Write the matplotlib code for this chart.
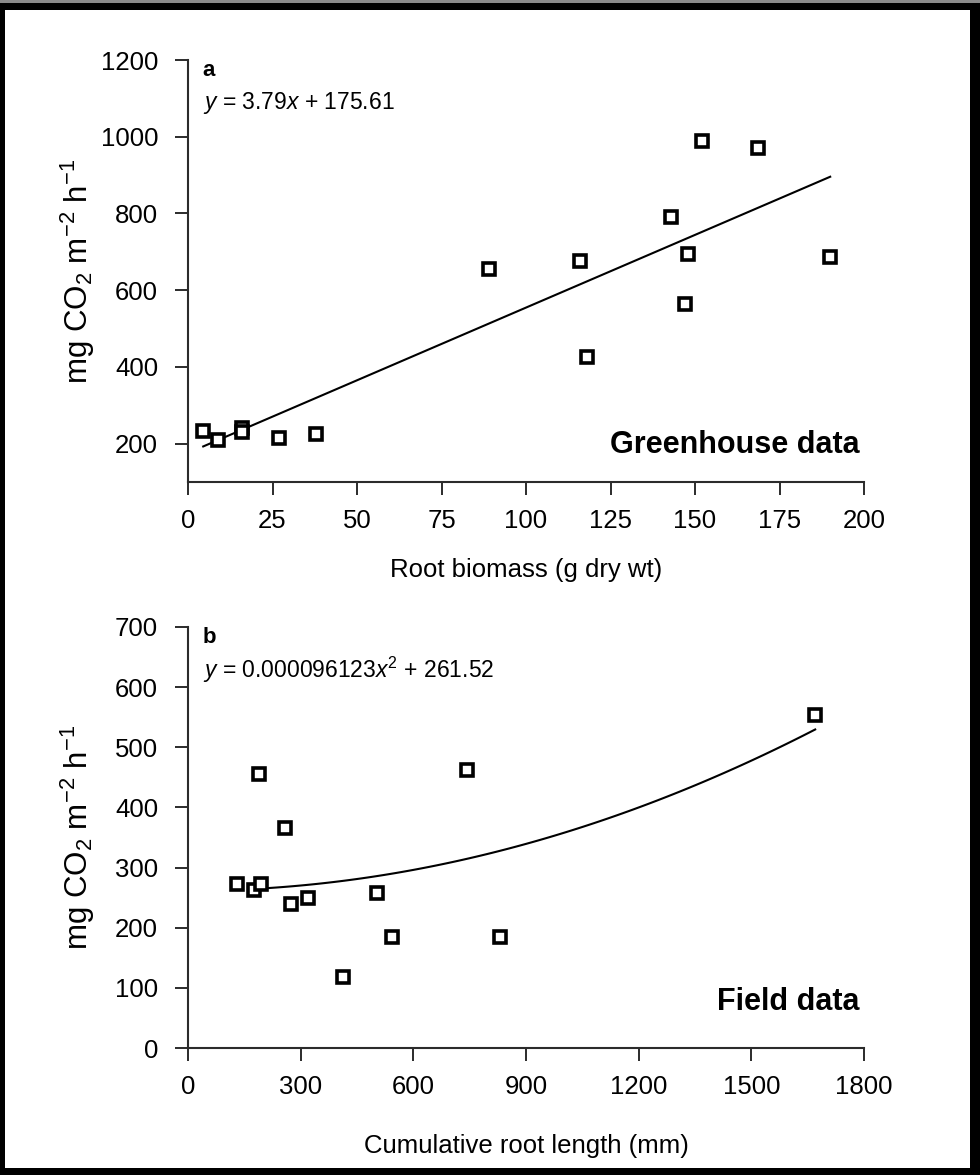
import numpy as np
import matplotlib
matplotlib.use('Agg')
import matplotlib.pyplot as plt
from matplotlib.patches import Rectangle

plt.rcParams['font.family'] = ['Liberation Sans', 'DejaVu Sans']
plt.rcParams['mathtext.fontset'] = 'custom'
plt.rcParams['mathtext.rm'] = 'Liberation Sans'
plt.rcParams['mathtext.it'] = 'Liberation Sans:italic'
plt.rcParams['mathtext.bf'] = 'Liberation Sans:bold'

# greenhouse data (panel a)
root_biomass = [4.5, 9, 16, 16, 27, 38, 89, 116, 118, 143, 147, 148, 152, 168.5, 190]
co2_greenhouse = [234, 210, 242, 230, 214, 226, 655, 676, 426, 790, 565, 695, 988, 970, 686]

# field data (panel b)
root_length = [130, 176, 189, 194, 258, 274, 320, 413, 503, 543, 743, 831, 1670]
co2_field = [272, 263, 455, 272, 365, 239, 249, 118, 257, 184, 463, 184, 553]

# fitted curves
lin_slope, lin_icpt = 3.79, 175.61
quad_a, quad_c = 0.000096123, 261.52

xticks_a = [0, 25, 50, 75, 100, 125, 150, 175, 200]
yticks_a = [200, 400, 600, 800, 1000, 1200]
xticks_b = [0, 300, 600, 900, 1200, 1500, 1800]
yticks_b = [0, 100, 200, 300, 400, 500, 600, 700]

W, H = 980, 1175
fig = plt.figure(figsize=(W / 100, H / 100), dpi=100)
fig.patch.set_facecolor('black')
# white page inside the dark frame, grey strip on top
fig.patches.append(Rectangle((5 / W, 1 - 1168 / H), 965 / W, 1158 / H,
                             transform=fig.transFigure, facecolor='white', edgecolor='none', zorder=-5))
fig.patches.append(Rectangle((0, 1 - 3 / H), 1, 3 / H,
                             transform=fig.transFigure, facecolor='#8a8a8a', edgecolor='none', zorder=-5))

ax_a = fig.add_axes([188 / W, 1 - 482 / H, 676 / W, 422 / H])
ax_b = fig.add_axes([188 / W, 1 - 1048 / H, 676 / W, 421 / H])

ylab = r'$\mathregular{mg\ CO_2\ m^{-2}\ h^{-1}}$'
axcol = '#2b2b2b'


def style_axis(ax):
    ax.set_facecolor('none')
    for s in ['top', 'right']:
        ax.spines[s].set_visible(False)
    for s in ['left', 'bottom']:
        ax.spines[s].set_linewidth(1.5)
        ax.spines[s].set_color(axcol)
    ax.tick_params(axis='both', direction='out', length=9.5, width=1.4, color=axcol, labelsize=18.5)
    ax.tick_params(axis='y', pad=12)
    ax.tick_params(axis='x', pad=10)


def plot_panel(ax, x, y, fx, fy, xt, yt, xlim, ylim, xlabel, xlab_y, letter, eqn, tag):
    ax.plot(fx, fy, color='black', lw=1.5, zorder=2)
    ax.plot(x, y, 's', ms=8, mfc='white', mec='black', mew=2.6, zorder=3, clip_on=False)
    ax.set_xlim(*xlim)
    ax.set_ylim(*ylim)
    ax.set_xticks(xt)
    ax.set_yticks(yt)
    style_axis(ax)
    ax.set_xlabel(xlabel, fontsize=18.5)
    ax.set_ylabel(ylab, fontsize=22.5)
    ax.xaxis.set_label_coords(0.5, xlab_y)
    ax.yaxis.set_label_coords(-0.135, 0.5)
    ax.text(0.022, 0.975, letter, transform=ax.transAxes, fontsize=16, fontweight='bold', va='center')
    ax.text(0.022, 0.898, eqn, transform=ax.transAxes, fontsize=16.5, va='center')
    ax.text(0.993, tag[1], tag[0], transform=ax.transAxes, fontsize=22, fontweight='bold',
            ha='right', va='center')


# panel a: linear fit
fx_a = np.linspace(min(root_biomass), max(root_biomass), 50)
fy_a = lin_slope * fx_a + lin_icpt
plot_panel(ax_a, root_biomass, co2_greenhouse, fx_a, fy_a, xticks_a, yticks_a, (0, 200), (100, 1200),
           'Root biomass (g dry wt)', -0.18, 'a', r'$\it{y}$ = 3.79$\it{x}$ + 175.61',
           ('Greenhouse data', 0.088))

# panel b: quadratic fit
fx_b = np.linspace(176, max(root_length), 100)
fy_b = quad_a * fx_b ** 2 + quad_c
plot_panel(ax_b, root_length, co2_field, fx_b, fy_b, xticks_b, yticks_b, (0, 1800), (0, 700),
           'Cumulative root length (mm)', -0.205, 'b', r'$\it{y}$ = 0.000096123$\it{x}^{2}$ + 261.52',
           ('Field data', 0.11))

fig.savefig('out.png', dpi=100, facecolor=fig.get_facecolor())
